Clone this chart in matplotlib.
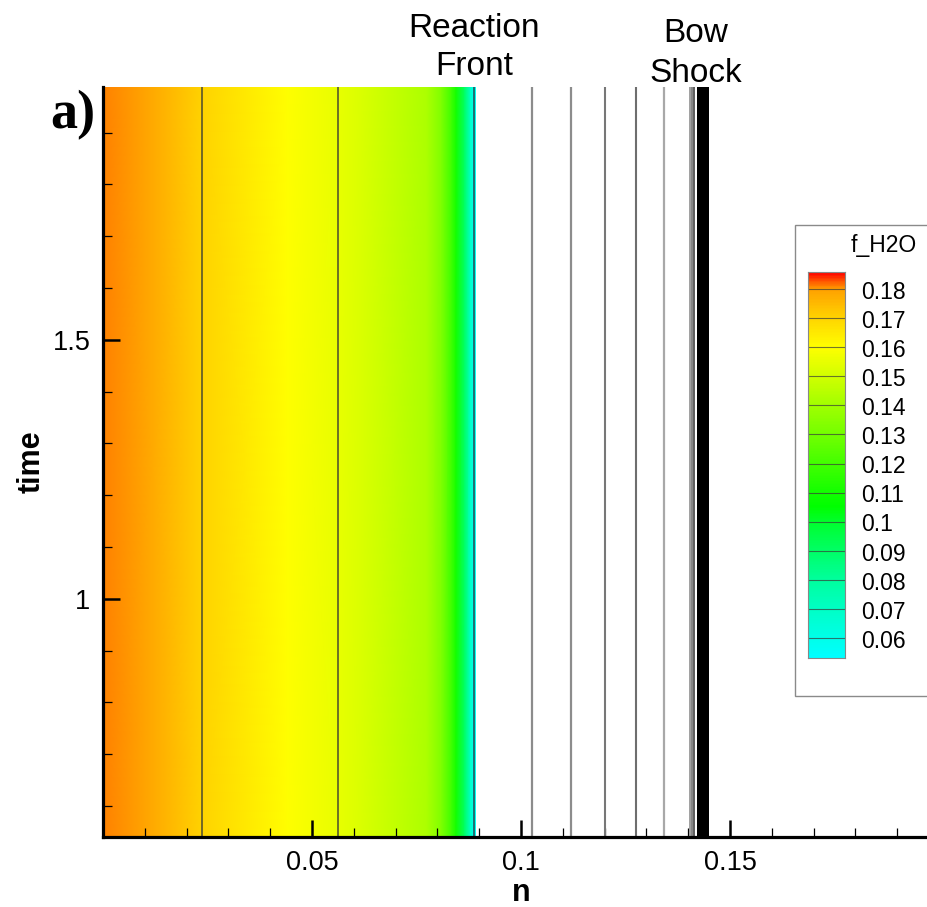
import numpy as np
import matplotlib
matplotlib.use("Agg")
import matplotlib.pyplot as plt
from matplotlib.colors import LinearSegmentedColormap, Normalize
from matplotlib.patches import Rectangle
from matplotlib.ticker import MultipleLocator
import matplotlib.transforms as mtransforms

# ---------------- data ----------------
# f_H2O profile across n (constant in time)
profile_n = [0.0, 0.0237, 0.044, 0.056, 0.0615, 0.0775, 0.081, 0.0835, 0.0845, 0.0865, 0.0880, 0.0886, 0.0891]
profile_f = [0.181, 0.170, 0.160, 0.155, 0.152, 0.142, 0.132, 0.118, 0.110, 0.090, 0.068, 0.060, 0.056]

# contour lines inside the flooded region
inner_lines_n = [0.0237, 0.0562]
front_line_n = 0.0888
# contour lines in the unflooded region
outer_lines_n = [0.1026, 0.1119, 0.1202, 0.1275, 0.1343, 0.1404, 0.1410, 0.1415]
shock_band_n = [0.1421, 0.1450]

# colour legend
legend_levels = [0.18, 0.17, 0.16, 0.15, 0.14, 0.13, 0.12, 0.11, 0.10, 0.09, 0.08, 0.07, 0.06]
legend_labels = ["0.18", "0.17", "0.16", "0.15", "0.14", "0.13", "0.12", "0.11", "0.1", "0.09", "0.08", "0.07", "0.06"]
f_range = [0.0532, 0.1858]

cmap_values = [0.0532, 0.060, 0.070, 0.080, 0.090, 0.100, 0.105, 0.110, 0.120, 0.130, 0.140, 0.150, 0.160, 0.170, 0.180, 0.1858]
cmap_colors = ["#00FFFF", "#00FFE8", "#00FFC4", "#00FF9C", "#00FF64", "#00FF2C", "#00FF00", "#14FF00",
               "#44FF00", "#74FF00", "#A2FF00", "#D2FF00", "#FFFF00", "#FFD400", "#FFA000", "#FF0000"]

x_major = [0.05, 0.1, 0.15]
x_major_labels = ["0.05", "0.1", "0.15"]
y_major = [1.0, 1.5]
y_major_labels = ["1", "1.5"]
x_lim = [0.0, 0.2]
y_lim = [0.54, 1.988]

# ---------------- figure ----------------
W, H = 928, 907
fig = plt.figure(figsize=(W / 100, H / 100), dpi=100)
plt.rcParams['font.family'] = ['Liberation Sans', 'DejaVu Sans']

def fx(px):
    return px / W

def fy(py):
    return 1 - py / H

ax = fig.add_axes([fx(103), fy(837), fx(939) - fx(103), fy(87) - fy(837)])
ax.set_xlim(*x_lim)
ax.set_ylim(*y_lim)

lo, hi = f_range
norm = Normalize(lo, hi)
pos = [(v - lo) / (hi - lo) for v in cmap_values]
cmap = LinearSegmentedColormap.from_list("tec", list(zip(pos, cmap_colors)))

N, T = np.meshgrid(np.array(profile_n), np.array(y_lim))
F = np.vstack([profile_f, profile_f])
ax.pcolormesh(N, T, F, cmap=cmap, norm=norm, shading='gouraud', zorder=0.5)

for xn in inner_lines_n:
    ax.axvline(xn, color="#4a4a30", lw=1.1, zorder=2)
ax.axvline(front_line_n, color="#1f6f70", lw=1.4, zorder=2)
outer_styles = [("#8c8c8c", 1.6), ("#8c8c8c", 1.6), ("#777777", 1.5), ("#6e6e6e", 1.5),
                ("#a8a8a8", 1.6), ("#999999", 1.3), ("#7a7a7a", 1.3), ("#505050", 1.3)]
for xn, (c, lw) in zip(outer_lines_n, outer_styles):
    ax.axvline(xn, color=c, lw=lw, zorder=2)
ax.axvspan(shock_band_n[0], shock_band_n[1], color="black", lw=0, zorder=2)

# axes styling
for s in ["top", "right"]:
    ax.spines[s].set_visible(False)
for s in ["left", "bottom"]:
    ax.spines[s].set_linewidth(2.3)
ax.set_xticks(x_major, x_major_labels)
ax.set_yticks(y_major, y_major_labels)
ax.xaxis.set_minor_locator(MultipleLocator(0.01))
ax.yaxis.set_minor_locator(MultipleLocator(0.1))
ax.tick_params(which='major', direction='in', length=12.5, width=1.8, labelsize=19.5, pad=9)
ax.tick_params(which='minor', direction='in', length=6.5, width=0.9)
ax.tick_params(axis='x', which='both', top=False)
ax.tick_params(axis='y', which='both', right=False)
ax.set_xlabel("n", fontsize=22, fontweight='bold', labelpad=2)
ax.set_ylabel("time", fontsize=22, fontweight='bold', labelpad=4)

# annotations
blend = mtransforms.blended_transform_factory(ax.transData, fig.transFigure)
ax.text(front_line_n, fy(37), "Reaction", transform=blend, ha='center', va='baseline', fontsize=24, clip_on=False)
ax.text(front_line_n, fy(75), "Front", transform=blend, ha='center', va='baseline', fontsize=24, clip_on=False)
shock_mid = 0.5 * (shock_band_n[0] + shock_band_n[1])
ax.text(shock_mid - 0.0017, fy(42), "Bow", transform=blend, ha='center', va='baseline', fontsize=24, clip_on=False)
ax.text(shock_mid - 0.0017, fy(82), "Shock", transform=blend, ha='center', va='baseline', fontsize=24, clip_on=False)
fig.text(fx(50), fy(128), "a)", fontsize=39, fontweight='bold', family=['Liberation Serif', 'DejaVu Serif'],
         ha='left', va='baseline')

# legend box
fig.patches.append(Rectangle((fx(795), fy(696)), fx(945) - fx(795), fy(225) - fy(696),
                             transform=fig.transFigure, facecolor='white', edgecolor='#8a8a8a', lw=1.0, zorder=3))
fig.text(fx(884), fy(245), "f_H2O", fontsize=16.5, ha='center', va='center', zorder=4)

cax = fig.add_axes([fx(808), fy(658), fx(845) - fx(808), fy(272) - fy(658)], zorder=5)
grad = np.linspace(lo, hi, 400).reshape(-1, 1)
cax.imshow(grad, cmap=cmap, norm=norm, origin='lower', aspect='auto', extent=[0, 1, lo, hi])
for lv in legend_levels:
    cax.axhline(lv, color="#3a3a3a", lw=0.8, alpha=0.7)
cax.set_xlim(0, 1)
cax.set_ylim(lo, hi)
cax.set_xticks([])
cax.set_yticks([])
for s in cax.spines.values():
    s.set_color('#888888')
    s.set_linewidth(0.8)
for lv, lab in zip(legend_levels, legend_labels):
    y = cax.transData.transform((0, lv))[1] / fig.dpi / (H / 100)
    fig.text(fx(861), y - 0.0035, lab, fontsize=16.5, ha='left', va='center', zorder=6)

fig.savefig("out.png", dpi=100)
